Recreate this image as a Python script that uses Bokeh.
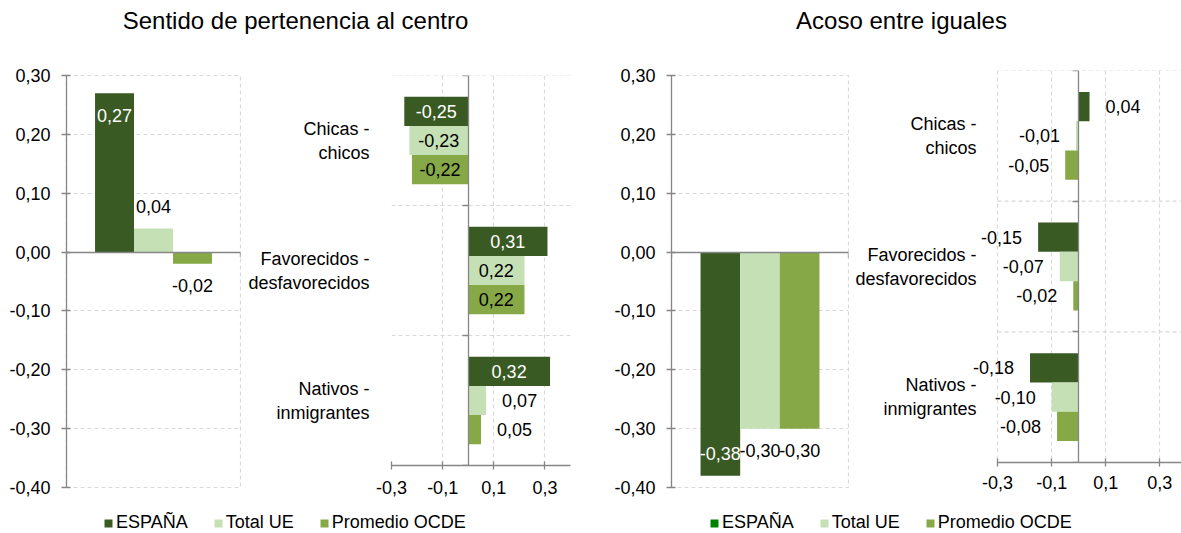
from bokeh.plotting import figure
from bokeh.layouts import column, row
from bokeh.models import (Range1d, FixedTicker, LinearAxis, CustomJSTickFormatter,
                          ColumnDataSource, Label, LabelSet, Legend, LegendItem)
from bokeh.embed import file_html
from bokeh.resources import INLINE
from bokeh.core.properties import value

# ---- data -------------------------------------------------------------
series = ["ESPAÑA", "Total UE", "Promedio OCDE"]
colors = ["#3A5A24", "#C5E0B4", "#86A846"]
legend2_colors = ["#008000", "#C5E0B4", "#86A846"]

categories = ["Chicas -\nchicos", "Favorecidos -\ndesfavorecidos", "Nativos -\ninmigrantes"]

# Sentido de pertenencia al centro
pert_overall = [0.27, 0.04, -0.02]          # ESPAÑA, Total UE, Promedio OCDE
pert_espana = [-0.25, 0.31, 0.32]           # per category
pert_ue = [-0.23, 0.22, 0.07]
pert_ocde = [-0.22, 0.22, 0.05]

# Acoso entre iguales
acoso_overall = [-0.38, -0.30, -0.30]
acoso_espana = [0.04, -0.15, -0.18]
acoso_ue = [-0.01, -0.07, -0.10]
acoso_ocde = [-0.05, -0.02, -0.08]

v_ticks = [-0.4, -0.3, -0.2, -0.1, 0.0, 0.1, 0.2, 0.3]
h_ticks = [-0.3, -0.1, 0.1, 0.3]

titles = ["Sentido de pertenencia al centro", "Acoso entre iguales"]

# ---- styling ----------------------------------------------------------
FONT = "Liberation Sans"
AXIS = "#868686"
GRID = "#D9D9D9"
DASH = "4 3"
ROW_H = 460
BW = 0.224   # bar thickness (fraction of a category)
LBL_PX = "18px"


def fmt(v, d=2):
    return f"{v:.{d}f}".replace(".", ",")


def comma_formatter(d):
    return CustomJSTickFormatter(code=f"return tick.toFixed({d}).replace('.', ',');")


def base_fig(width, x_range, y_range, left, right, top, bottom, x_axis=True):
    kw = dict(width=width, height=ROW_H, x_range=x_range, y_range=y_range,
              output_backend="svg", toolbar_location=None, frame_align=False,
              min_border_left=left, min_border_right=right,
              min_border_top=top, min_border_bottom=bottom)
    if not x_axis:
        kw["x_axis_type"] = None
    p = figure(**kw)
    p.background_fill_color = "white"
    p.border_fill_color = "white"
    return p


def style_num_axis(ax, ticks, d, standoff):
    ax.ticker = FixedTicker(ticks=ticks)
    ax.formatter = comma_formatter(d)
    ax.axis_line_color = AXIS
    ax.axis_line_width = 1.3
    ax.major_tick_line_color = AXIS
    ax.major_tick_line_width = 1.3
    ax.minor_tick_line_color = None
    ax.major_tick_in = 4
    ax.major_tick_out = 5
    ax.major_label_standoff = standoff
    ax.major_label_text_font = FONT
    ax.major_label_text_font_size = LBL_PX
    ax.major_label_text_color = "black"


def zero_axis(ticks, tick_out):
    # plain baseline through zero, ticks only
    return LinearAxis(fixed_location=0, ticker=FixedTicker(ticks=ticks),
                      axis_line_color=AXIS, axis_line_width=1.3,
                      major_tick_line_color=AXIS, major_tick_line_width=1.3,
                      major_tick_in=0, major_tick_out=tick_out,
                      minor_tick_line_color=None,
                      major_label_text_color=None, major_label_text_alpha=0)


def add_labels(p, src, xname, yname):
    p.add_layout(LabelSet(x=xname, y=yname, text="label", source=src,
                          x_offset="xoff", y_offset="yoff",
                          text_align="align", text_baseline="middle",
                          text_color="tcol", text_font=value(FONT),
                          text_font_size=LBL_PX))


def vertical_panel(vals, width, left, right):
    p = base_fig(width, Range1d(-0.5, 0.5), Range1d(v_ticks[0], v_ticks[-1]),
                 left, right, 30, 18, x_axis=False)
    p.outline_line_color = GRID
    p.outline_line_dash = DASH
    p.outline_line_width = 1.2
    style_num_axis(p.yaxis[0], v_ticks, 2, 11)
    p.ygrid.grid_line_color = GRID
    p.ygrid.grid_line_dash = DASH
    p.ygrid.grid_line_width = 1.2

    n = len(vals)
    xs = [(i - (n - 1) / 2) * BW for i in range(n)]
    offs, tcol = [], []
    for i, v in enumerate(vals):
        inside = i == 0
        sgn = 1 if v >= 0 else -1
        # screen y offsets: positive moves the text down
        offs.append(-22 * sgn if inside else 22 * sgn)
        tcol.append("white" if inside else "black")
    src = ColumnDataSource(dict(x=xs, top=vals, color=colors[:n],
                                label=[fmt(v) for v in vals], xoff=[0] * n,
                                yoff=offs, align=["center"] * n, tcol=tcol))
    p.vbar(x="x", top="top", width=BW, fill_color="color", line_color=None, source=src)
    p.add_layout(zero_axis([-0.5, 0.5], 5), "below")
    add_labels(p, src, "x", "top")
    return p


def horizontal_panel(groups, width, left, right, top, bottom,
                     x_start, x_end, standoff, cat_standoff):
    n = len(categories)
    p = base_fig(width, Range1d(x_start, x_end), Range1d(n, 0),
                 left, right, top, bottom)
    p.outline_line_color = None
    centers = [i + 0.5 for i in range(n)]
    bounds = list(range(n + 1))

    xa = p.xaxis[0]
    style_num_axis(xa, h_ticks, 1, standoff)
    xa.major_tick_in = 4
    xa.major_tick_out = 4
    xa.bounds = (h_ticks[0], x_end)
    p.xgrid.grid_line_color = GRID
    p.xgrid.grid_line_dash = DASH
    p.xgrid.grid_line_width = 1.2

    lab = p.yaxis[0]
    lab.ticker = FixedTicker(ticks=centers)
    lab.formatter = CustomJSTickFormatter(args=dict(labels=categories),
                                          code="return labels[Math.floor(tick)];")
    lab.axis_line_color = None
    lab.major_tick_line_color = None
    lab.minor_tick_line_color = None
    lab.major_label_standoff = cat_standoff
    lab.major_label_text_font = FONT
    lab.major_label_text_font_size = LBL_PX
    lab.major_label_text_color = "black"
    lab.major_label_text_align = "center"
    p.ygrid.grid_line_color = None

    # dashed separators between categories, starting at the first x tick
    sep = bounds[:-1]
    p.segment(x0=[h_ticks[0]] * len(sep), x1=[x_end] * len(sep), y0=sep, y1=sep,
              line_color=GRID, line_dash=DASH, line_width=1.2)

    ys, vals, cols, labels, xs, xoff, align, tcol = [], [], [], [], [], [], [], []
    for s, gvals in enumerate(groups):
        for i, v in enumerate(gvals):
            ys.append(centers[i] + (s - 1) * BW)
            vals.append(v)
            cols.append(colors[s])
            labels.append(fmt(v))
            if abs(v) >= 0.2:
                xs.append(v / 2)
                xoff.append(0)
                align.append("center")
                tcol.append("white" if s == 0 else "black")
            else:
                xs.append(v)
                xoff.append(16 if v >= 0 else -16)
                align.append("left" if v >= 0 else "right")
                tcol.append("black")
    src = ColumnDataSource(dict(y=ys, right=vals, color=cols, label=labels,
                                lx=xs, xoff=xoff, yoff=[0] * len(ys),
                                align=align, tcol=tcol))
    p.hbar(y="y", left=0, right="right", height=BW, fill_color="color",
           line_color=None, source=src)
    p.add_layout(zero_axis(bounds, 6), "left")
    add_labels(p, src, "lx", "y")
    return p


p1 = vertical_panel(pert_overall, 245, 66, 5)
p2 = horizontal_panel([pert_espana, pert_ue, pert_ocde], 355, 144, 30, 30, 40,
                      -0.3, 0.4, 11, 16)
p3 = vertical_panel(acoso_overall, 250, 71, 2)
p4 = horizontal_panel([acoso_espana, acoso_ue, acoso_ocde], 331, 120, 0, 25, 43,
                      -0.4, 0.38, 9, -12)

# ---- titles -----------------------------------------------------------
head = figure(width=1181, height=45, x_axis_type=None, y_axis_type=None,
              x_range=Range1d(0, 1), y_range=Range1d(0, 1), min_border=0,
              output_backend="svg", toolbar_location=None)
head.outline_line_color = None
for t, cx in zip(titles, [295, 901]):
    head.add_layout(Label(x=cx, y=25, x_units="screen", y_units="screen", text=t,
                          text_align="center", text_baseline="middle",
                          text_font=FONT, text_font_size="24px", text_color="black"))

# ---- legends ----------------------------------------------------------
foot = figure(width=1181, height=28, x_axis_type=None, y_axis_type=None,
              x_range=Range1d(0, 1), y_range=Range1d(0, 1), min_border=0,
              output_backend="svg", toolbar_location=None)
foot.outline_line_color = None
for palette, lx in [(colors, 103), (legend2_colors, 709)]:
    items = []
    for name, c in zip(series, palette):
        # swatch source: a zero-height bar, so only the legend shows it
        r = foot.vbar(x=[0.5], top=[0], bottom=[0], width=0.01,
                      fill_color=c, line_color=None)
        items.append(LegendItem(label=name, renderers=[r]))
    leg = Legend(items=items, location=(lx, 0), orientation="horizontal",
                 glyph_width=10, glyph_height=10, label_standoff=3, spacing=25,
                 padding=0, margin=0, border_line_color=None,
                 background_fill_alpha=0, label_text_font=FONT,
                 label_text_font_size=LBL_PX, label_text_color="black",
                 label_height=20)
    foot.add_layout(leg)

layout = column(head, row(p1, p2, p3, p4), foot)

with open("out.html", "w") as f:
    f.write(file_html(layout, INLINE))
